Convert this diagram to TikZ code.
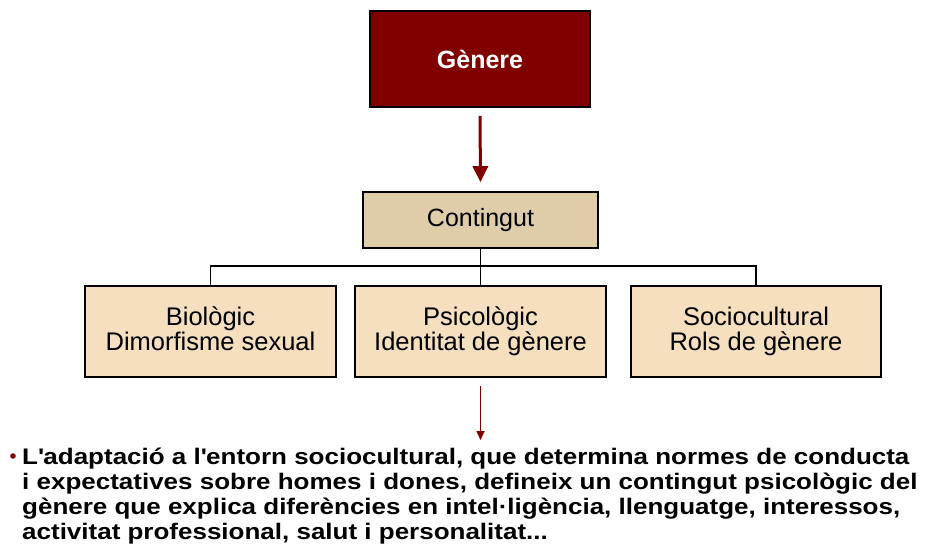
\documentclass[tikz,border=0pt]{standalone}
\usepackage{fontspec}
\setmainfont{Liberation Sans}
\newfontfamily\bodyfont[FakeStretch=1.155]{Liberation Sans}
\usetikzlibrary{arrows.meta}
\definecolor{maroonc}{HTML}{800000}
\definecolor{tanc}{HTML}{DFCDAA}
\definecolor{wheatc}{HTML}{F5DFBF}
\newcommand{\ls}{\rule[-6pt]{0pt}{24pt}}
\tikzset{
  box/.style={draw=black, line width=1.6pt, rectangle, inner sep=0pt, align=center},
  topbox/.style={box, fill=maroonc, text=white, font=\fontsize{25}{25}\selectfont\bfseries, minimum width=220pt, minimum height=96pt},
  midbox/.style={box, fill=tanc, font=\fontsize{25}{25}\selectfont, minimum width=235pt, minimum height=56pt},
  leafbox/.style={box, fill=wheatc, font=\fontsize{25.5}{25}\selectfont, minimum width=251pt, minimum height=91pt},
  link/.style={draw=black, line width=1.6pt},
  bigarrow/.style={draw=maroonc, line width=3pt, -{Triangle[length=16pt,width=15pt]}},
  smallarrow/.style={draw=maroonc, line width=1.6pt, -{Triangle[length=9pt,width=8pt]}},
  bodytext/.style={anchor=base west, inner sep=0pt, font=\bodyfont\fontsize{22.5}{25}\selectfont\bfseries}
}
\begin{document}
\begin{tikzpicture}[x=1pt,y=-1pt]
\useasboundingbox (0,0) rectangle (926,549);
\node[topbox] (gen) at (480,59) {Gènere};
\node[midbox] (cont) at (480.5,220) {Contingut};
\node[leafbox] (bio) at (210.5,331.5) {\ls Biològic\\\ls Dimorfisme sexual};
\node[leafbox] (psi) at (480.5,331.5) {\ls Psicològic\\\ls Identitat de gènere};
\node[leafbox, minimum width=250pt] (soc) at (756,331.5) {\ls Sociocultural\\\ls Rols de gènere};
\draw[bigarrow, shorten <=8pt, shorten >=9pt] (gen.south) -- (cont.north);
\coordinate (junc) at (480.5,266);
\draw[link] (cont.south) -- (junc);
\draw[link] (junc) -| (bio.north);
\draw[link] (junc) -| (soc.north);
\draw[link] (junc) -- (psi.north);
\coordinate (tip) at (480.5,440);
\draw[smallarrow, shorten <=8pt] (psi.south) -- (tip);
\fill[maroonc] (13,456) circle (2.8pt);
\node[bodytext] (l1) at (22,464) {L\textquotesingle adaptació a l\textquotesingle entorn sociocultural, que determina normes de conducta};
\node[bodytext] (l2) at (22,489) {i expectatives sobre homes i dones, defineix un contingut psicològic del};
\node[bodytext] (l3) at (22,514) {gènere que explica diferències en intel·ligència, llenguatge, interessos,};
\node[bodytext] (l4) at (22,539) {activitat professional, salut i personalitat...};
\end{tikzpicture}
\end{document}
